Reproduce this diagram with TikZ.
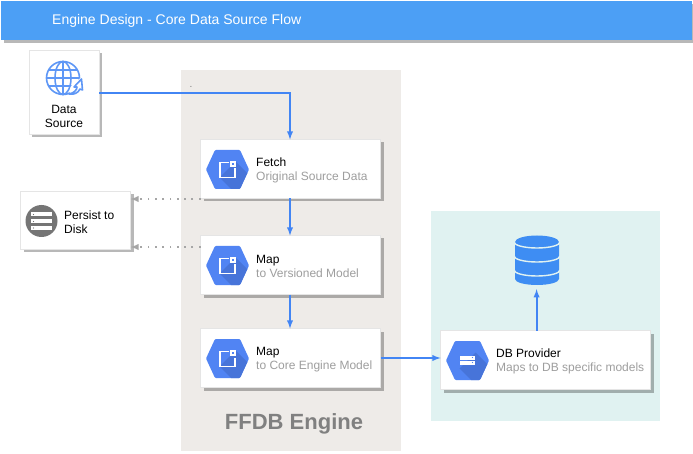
\documentclass[tikz,border=0pt]{standalone}
\usepackage{fontspec}
\setmainfont{Liberation Sans}
\usetikzlibrary{arrows,positioning,shadows}
\definecolor{headblue}{HTML}{4C9FF5}
\definecolor{linkblue}{HTML}{4285F4}
\definecolor{hexblue}{HTML}{5184F3}
\definecolor{hexdark}{HTML}{4774D9}
\definecolor{dbblue}{HTML}{3E8DF3}
\definecolor{enginebg}{HTML}{EEEBE8}
\definecolor{providerbg}{HTML}{E0F2F1}
\definecolor{subgray}{HTML}{9E9E9E}
\definecolor{dotgray}{HTML}{A6A6A6}
\tikzset{
cast/.style={drop shadow={shadow xshift=3pt,shadow yshift=-3pt,fill=black,opacity=.28}},
card/.style={draw=black!10,fill=white,line width=.5pt,inner sep=0pt,outer sep=0pt,cast},
flowcard/.style={card,minimum width=180pt,minimum height=59pt},
cardtext/.style={align=left,inner sep=0pt,font=\fontsize{12}{14}\selectfont},
zone/.style={inner sep=0pt,outer sep=0pt,anchor=north west},
flowlink/.style={->,>=latex,linkblue,line width=1.8pt},
dotlink/.style={->,>=latex,dotgray,line width=1.8pt,dash pattern=on 1.8pt off 5.5pt}
}
\newcommand{\sub}[1]{\textcolor{subgray}{#1}}
\newcommand{\hexbase}[1]{
\begin{scope}[shift={(#1)}]
\fill[hexblue,rounded corners=1pt] (-21.5,0)--(-12.5,-19.5)--(12.5,-19.5)--(21.5,0)--(12.5,19.5)--(-12.5,19.5)--cycle;
\begin{scope}
\clip[rounded corners=1pt] (-21.5,0)--(-12.5,-19.5)--(12.5,-19.5)--(21.5,0)--(12.5,19.5)--(-12.5,19.5)--cycle;
\fill[hexdark] (-8,8)--(8,-8)--(30,14)--(14,30)--cycle;
\end{scope}
\end{scope}}
\newcommand{\hexflow}[1]{
\hexbase{#1}
\begin{scope}[shift={(#1)}]
\draw[white,line width=1.5pt] (1,-7)--(-7.5,-7)--(-7.5,8)--(7.5,8)--(7.5,-1);
\fill[white] (2.5,-8.5) rectangle (8.5,-2.5);
\fill[hexblue] (4.5,-6.5) rectangle (6.5,-4.5);
\end{scope}}
\newcommand{\hexstore}[1]{
\hexbase{#1}
\begin{scope}[shift={(#1)}]
\fill[white] (-7.5,-4.5) rectangle (7.5,-.5);
\fill[white] (-7.5,.5) rectangle (7.5,4.5);
\fill[hexblue] (5,-3) circle (.6) (5,2) circle (.6);
\end{scope}}
\begin{document}
\begin{tikzpicture}[x=1pt,y=-1pt]
\path[use as bounding box,fill=white] (0,0) rectangle (693,454);
\node[zone,fill=enginebg,minimum width=219.5pt,minimum height=380.5pt] (engine) at (181,70) {};
\node[zone,fill=providerbg,minimum width=229pt,minimum height=209.5pt] (provider) at (431,211) {};
\node[zone,fill=headblue,minimum width=691pt,minimum height=39pt,cast] (header) at (1,1) {};
\node[cardtext,anchor=west,text=white,font=\fontsize{14}{16}\selectfont] (title) at (52,21) {Engine Design - Core Data Source Flow};
\node[card,minimum width=70pt,minimum height=84pt] (source) at (64,92.5) {};
\node[card,minimum width=110pt,minimum height=58pt] (persist) at (75.5,220.5) {};
\node[flowcard] (fetch) at (290.5,169) {};
\node[flowcard] (mapa) at (290.5,265) {};
\node[flowcard] (mapb) at (290.5,358) {};
\node[flowcard,minimum width=210pt] (dbprov) at (545.5,360) {};
\node[inner sep=0pt,minimum width=44pt,minimum height=50pt] (dbicon) at (537,260) {};
\node[cardtext,align=center] (sourcetxt) at (64,116) {Data\\Source};
\node[cardtext,right=43.5pt of persist.west,yshift=-1.5pt] (persisttxt) {Persist to\\Disk};
\node[cardtext,right=55.5pt of fetch.west,yshift=-1.5pt] (fetchtxt) {Fetch\\\sub{Original Source Data}};
\node[cardtext,right=55.5pt of mapa.west,yshift=-1.5pt] (mapatxt) {Map\\\sub{to Versioned Model}};
\node[cardtext,right=55.5pt of mapb.west,yshift=-1.5pt] (mapbtxt) {Map\\\sub{to Core Engine Model}};
\node[cardtext,right=55.5pt of dbprov.west,yshift=-1.5pt] (dbprovtxt) {DB Provider\\\sub{Maps to DB specific models}};
\node[inner sep=0pt,text=black!50,font=\bfseries\fontsize{22}{26}\selectfont] (enginetxt) at (294,423.5) {FFDB Engine};
\node[inner sep=0pt,text=gray,font=\fontsize{10}{12}\selectfont] (speck) at (191,87) {.};
\hexflow{227.5,169.5}
\hexflow{227.5,265.5}
\hexflow{227.5,358.5}
\hexstore{467.5,360.5}
\fill[black!54] (41.5,221) circle (16);
\begin{scope}[shift={(41.5,221)}]
\foreach \yy in {-8,-1,5.5}{
\fill[white] (-10.5,\yy-.5) rectangle (10.5,\yy+3.5);
\fill[black!54] (-8,\yy+1.5) circle (.6);
}
\end{scope}
\begin{scope}[shift={(63,78)}]
\begin{scope}[linkblue!85!white,line width=1.6pt]
\draw (0,0) circle (16.5);
\draw (0,0) ellipse (8 and 16.5);
\draw (0,-16.5)--(0,16.5);
\draw (-14.5,-8)--(14.5,-8) (-16.5,0)--(16.5,0) (-14.5,8)--(14.5,8);
\fill[white] (6,18)--(20,18)--(20,-2)--(8,8)--cycle;
\draw[line join=round,fill=white] (6,16)..controls (11,15) and (14,12)..(14,9)--(11,9)--(18.5,1)--(19.5,12)--(17,11)..controls (15,15) and (11,17)..(6,16)--cycle;
\end{scope}
\end{scope}
\fill[dbblue] (515,242)--(515,279) arc[start angle=180,end angle=0,x radius=22,y radius=6]--(559,242) arc[start angle=0,end angle=-180,x radius=22,y radius=6.5]--cycle;
\foreach \yy in {242,256,270}{
\draw[providerbg,line width=1.4pt] (514,\yy) arc[start angle=180,end angle=0,x radius=23,y radius=6];
}
\coordinate (sourceout) at (source.east |- 0,93);
\coordinate (fetchin) at ([xshift=-.5pt]fetch.north);
\coordinate (fetchout) at ([xshift=-.5pt]fetch.south);
\coordinate (mapain) at ([xshift=-.5pt]mapa.north);
\coordinate (mapaout) at ([xshift=-.5pt]mapa.south);
\coordinate (mapbin) at ([xshift=-.5pt]mapb.north);
\coordinate (fetchleft) at ([yshift=-.5pt]fetch.south west);
\coordinate (persistup) at (persist.east |- fetchleft);
\coordinate (persistlow) at (persist.east |- 0,247);
\coordinate (mapleft) at (mapa.west |- 0,247);
\coordinate (dbfoot) at ([xshift=-.4pt,yshift=-4pt]dbicon.south);
\draw[flowlink] (sourceout) -| (fetchin);
\path[flowlink]
(fetchout) edge (mapain)
(mapaout) edge (mapbin)
(mapb.east) edge (dbprov.west |- mapb.east)
(dbfoot |- dbprov.north) edge (dbfoot);
\path[dotlink]
(fetchleft) edge (persistup)
(mapleft) edge (persistlow);
\end{tikzpicture}
\end{document}
